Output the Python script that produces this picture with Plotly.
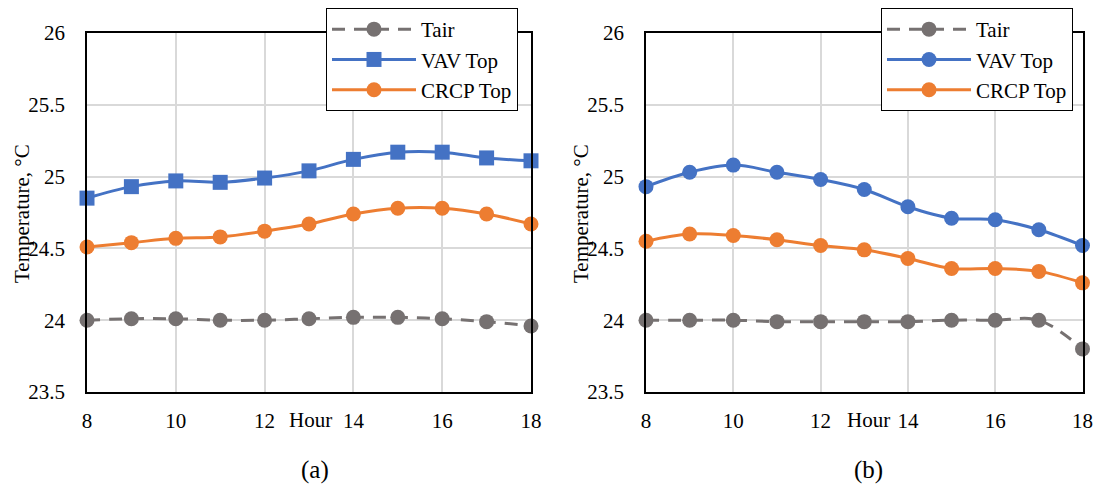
import plotly.graph_objects as go

# Hourly temperatures, two cases (a) and (b)
hours = [8, 9, 10, 11, 12, 13, 14, 15, 16, 17, 18]

tair_a = [24.00, 24.01, 24.01, 24.00, 24.00, 24.01, 24.02, 24.02, 24.01, 23.99, 23.96]
vav_a = [24.85, 24.93, 24.97, 24.96, 24.99, 25.04, 25.12, 25.17, 25.17, 25.13, 25.11]
crcp_a = [24.51, 24.54, 24.57, 24.58, 24.62, 24.67, 24.74, 24.78, 24.78, 24.74, 24.67]

tair_b = [24.00, 24.00, 24.00, 23.99, 23.99, 23.99, 23.99, 24.00, 24.00, 24.00, 23.80]
vav_b = [24.93, 25.03, 25.08, 25.03, 24.98, 24.91, 24.79, 24.71, 24.70, 24.63, 24.52]
crcp_b = [24.55, 24.60, 24.59, 24.56, 24.52, 24.49, 24.43, 24.36, 24.36, 24.34, 24.26]

x_ticks = [8, 10, 12, 14, 16, 18]
y_ticks = [23.5, 24, 24.5, 25, 25.5, 26]

GRAY = "#767171"
BLUE = "#4472C4"
ORANGE = "#ED7D31"
FONT = "Liberation Serif, Times New Roman, serif"

W, H = 1095, 488


def px_x(v):
    return v / W


def px_y(v):
    return 1 - v / H


fig = go.Figure()


def add_panel(xa, ya, leg, tair, vav, crcp, vav_symbol):
    common = dict(xaxis=xa, yaxis=ya, legend=leg, cliponaxis=False,
                  line_shape="spline")
    fig.add_trace(go.Scatter(
        x=hours, y=tair, name="Tair", mode="lines+markers",
        line=dict(color=GRAY, width=3, dash="13px,9px"),
        marker=dict(symbol="circle", size=15, color=GRAY), **common))
    fig.add_trace(go.Scatter(
        x=hours, y=vav, name="VAV Top", mode="lines+markers",
        line=dict(color=BLUE, width=3),
        marker=dict(symbol=vav_symbol, size=15, color=BLUE), **common))
    fig.add_trace(go.Scatter(
        x=hours, y=crcp, name="CRCP Top", mode="lines+markers",
        line=dict(color=ORANGE, width=3),
        marker=dict(symbol="circle", size=15, color=ORANGE), **common))


add_panel("x", "y", "legend", tair_a, vav_a, crcp_a, "square")
add_panel("x2", "y2", "legend2", tair_b, vav_b, crcp_b, "circle")

xaxis_style = dict(
    range=[8, 18], tickvals=x_ticks, showgrid=True, gridcolor="#d9d9d9",
    gridwidth=1.5, showline=True, linecolor="black", linewidth=1.5,
    mirror=True, zeroline=False, ticks="", ticklabelstandoff=9,
    automargin=False,
    tickfont=dict(family=FONT, size=21, color="black"),
)
yaxis_style = dict(
    range=[23.5, 26], tickvals=y_ticks, showgrid=True, gridcolor="#d9d9d9",
    gridwidth=1.5, showline=True, linecolor="black", linewidth=1.5,
    mirror=True, zeroline=False, ticks="", ticklabelstandoff=16,
    automargin=False,
    tickfont=dict(family=FONT, size=21, color="black"),
    domain=[px_y(392), px_y(33)],
)

legend_style = dict(
    bgcolor="white", bordercolor="black", borderwidth=1,
    font=dict(family=FONT, size=21, color="black"),
    xanchor="left", yanchor="top", itemwidth=84, tracegroupgap=0,
)

fig.update_layout(
    template="none",
    width=W, height=H,
    margin=dict(l=0, r=0, t=0, b=0, pad=0, autoexpand=False),
    paper_bgcolor="white", plot_bgcolor="white",
    showlegend=True,
    xaxis=dict(domain=[px_x(87), px_x(531)], anchor="y", **xaxis_style),
    yaxis=dict(anchor="x", **yaxis_style),
    xaxis2=dict(domain=[px_x(646), px_x(1082.5)], anchor="y2", **xaxis_style),
    yaxis2=dict(anchor="x2", **yaxis_style),
    legend=dict(x=px_x(326), y=px_y(8), **legend_style),
    legend2=dict(x=px_x(881), y=px_y(8), **legend_style),
)

# Axis titles and panel captions
text_pos = dict(xref="paper", yref="paper", showarrow=False,
                xanchor="center", yanchor="middle")
for cx in (22, 581):
    fig.add_annotation(
        x=px_x(cx), y=px_y(214), text="Temperature, °C", textangle=-90,
        font=dict(family=FONT, size=21, color="black"), **text_pos)
for cx in (310, 868):
    fig.add_annotation(
        x=px_x(cx), y=px_y(420), text="Hour",
        font=dict(family=FONT, size=21, color="black"), **text_pos)
for cx, cap in [(315, "(a)"), (868, "(b)")]:
    fig.add_annotation(
        x=px_x(cx), y=px_y(470), text=cap,
        font=dict(family=FONT, size=25, color="black"), **text_pos)

fig.write_html("out.html")
